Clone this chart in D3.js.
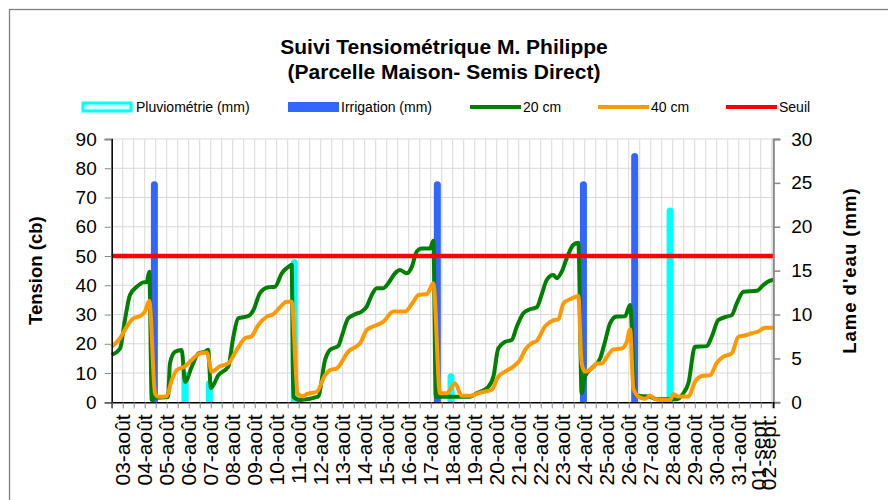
<!DOCTYPE html>
<html lang="fr">
<head>
<meta charset="utf-8">
<title>Suivi Tensiométrique M. Philippe</title>
<script src="https://d3js.org/d3.v7.min.js"></script>
<style>
  body { margin: 0; background: #fff; }
  svg { display: block; font-family: "Liberation Sans", Arial, sans-serif; }
  .grid line { stroke: #d9d9d9; stroke-width: 1; }
</style>
</head>
<body>
<svg id="chart"></svg>
<script>
// temps en jours (3 = 03-août 0h, 32 = 01-sept.)
const labels = ["03-août","04-août","05-août","06-août","07-août","08-août","09-août","10-août",
  "11-août","12-août","13-août","14-août","15-août","16-août","17-août","18-août","19-août",
  "20-août","21-août","22-août","23-août","24-août","25-août","26-août","27-août","28-août",
  "29-août","30-août","31-août","01-sept.","02-sept."];
const labelDays = [3,4,5,6,7,8,9,10,11,12,13,14,15,16,17,18,19,20,21,22,23,24,25,26,27,28,29,30,31,31.9,32.35];

// tension 20 cm (cb)
const t20 = [2.5,2.88,3.1,3.33,3.64,3.94,4.09,4.21,4.32,4.47,5.06,5.15,5.38,5.68,5.83,6.14,6.44,6.74,6.88,7.01,
  7.35,7.8,8.03,8.25,8.71,8.94,9.24,9.62,9.92,10.23,10.53,10.68,10.75,11.06,11.88,12.2,12.42,12.8,12.95,13.25,
  13.56,13.86,14.09,14.32,14.55,14.85,15.07,15.38,15.6,15.91,16.14,16.36,16.59,16.97,17.12,17.23,18.79,19.09,19.62,19.85,
  20.07,20.38,20.68,20.91,21.21,21.51,21.82,22.05,22.27,22.57,22.73,22.95,23.18,23.48,23.71,23.86,24.01,24.39,24.7,24.92,
  25.15,25.45,25.83,26.06,26.29,26.51,26.97,27.27,28.18,28.48,28.71,29.01,29.55,29.77,30.07,30.45,30.68,30.91,31.21,31.82,
  32.12,32.42,32.57];
const v20 = [16.2,18.4,28.1,36.7,39.5,41,41.1,44.6,0.8,1.5,1.8,13.4,17.3,17.9,7,12.2,16.7,17.3,18,4.8,
  9.3,12.2,22.4,28.7,29.5,31.5,37.3,39.3,39.5,44.1,46.3,47,1.9,0.8,1.9,14.5,17.9,19.3,22.4,28.7,
  30.1,31,32.7,36.7,39,39,40.7,44.1,45.2,44.1,46.3,51.5,52.6,52.6,55.2,1.9,1.9,3.1,5.3,8.8,
  18.4,20.7,21.3,25.8,30.4,31.8,32.5,37,41.8,43.5,42.4,44.6,49.2,53.8,54.5,3.1,8.8,12.2,15,20.7,
  27,29.3,29.4,33.3,2.5,2.2,1.9,1,1,3.1,6.5,19,19.2,22.4,28.1,29.3,29.8,33.8,37.8,38.1,
  40.1,41.6,41.8];

// tension 40 cm (cb)
const t40 = [2.5,2.88,3.18,3.48,3.79,4.01,4.21,4.47,4.62,5,5.23,5.45,5.83,6.14,6.51,6.82,7.05,7.42,7.8,8.18,
  8.56,8.86,9.16,9.55,9.85,10.15,10.45,10.68,10.95,11.21,11.36,11.82,12.2,12.42,12.73,13.25,13.79,14.09,14.55,14.85,
  15.3,15.83,16.21,16.44,16.82,17.12,17.42,17.73,18.1,18.41,18.79,19.24,19.77,20.07,20.38,20.75,21.06,21.29,21.59,21.82,
  22.2,22.57,22.8,23.03,23.41,23.71,23.86,24.01,24.32,24.55,24.77,25.07,25.3,25.68,25.91,26.06,26.21,26.44,26.74,26.97,
  27.2,27.42,27.88,28.03,28.25,28.71,29.01,29.32,29.7,30,30.3,30.68,30.98,31.36,31.59,31.89,32.19,32.57];
const v40 = [19,21.9,25.8,28.7,29.5,31,34.7,3.1,1.9,2.1,7.6,11,12.3,14.5,16.7,17,10.5,12.3,13.3,17.9,
  21.9,22.6,26.4,29.3,30.1,32.5,34.4,34.4,3.1,2,2.8,3.6,9.3,11,11.6,17.3,20.2,24.7,26.4,27.6,
  31,31,34.4,36.7,37,40.7,3.1,3.1,6.5,2.2,2.2,3.3,4.3,8.8,10.5,12.2,14.5,17.9,20.2,21,
  26,28,28.4,33.8,35.5,36.3,13.3,10.5,11.6,13.3,13.3,16.2,18.1,18.4,20.7,25,4.8,1.9,1.2,2.2,
  1.2,0.8,0.8,2.8,2,2,7,9,9.3,13.5,15.6,16.7,22.4,23,23.6,24.2,25.5,25.5];

// lames d'eau (mm)
const pluieDays = [5.83, 6.94, 10.8, 17.92, 27.88];
const pluieMm = [3.5, 2.5, 16.3, 3.3, 22.2];
const irrigDays = [4.44, 17.3, 23.94, 26.27];
const irrigMm = [25.2, 25.2, 25.2, 28.4];

const seuil = 50;
const tensionTicks = [0,10,20,30,40,50,60,70,80,90];
const lameTicks = [0,5,10,15,20,25,30];

const width = 888, height = 500;
const pL = 111.7, pR = 773.3, pT = 139, pB = 402.3;

const svg = d3.select("#chart").attr("width", width).attr("height", height);

// cadre du graphique
svg.append("rect").attr("x", 9.5).attr("y", 9.5).attr("width", 900).attr("height", 520)
  .attr("fill", "#fff").attr("stroke", "#808080").attr("stroke-width", 1.3);

const x = d3.scaleLinear().domain([2.5, 32.57]).range([pL, pR]);
const y = d3.scaleLinear().domain([0, 90]).range([pB, pT]);
const yR = d3.scaleLinear().domain([0, 30]).range([pB, pT]);

// grille
const halfDays = d3.range(2.5, 32.51, 0.5);
svg.append("g").attr("class", "grid")
  .selectAll("line").data(halfDays).join("line")
  .attr("x1", d => x(d)).attr("x2", d => x(d)).attr("y1", pT).attr("y2", pB);
svg.append("g").attr("class", "grid")
  .selectAll("line").data(tensionTicks.slice(1)).join("line")
  .attr("x1", pL).attr("x2", pR).attr("y1", d => y(d)).attr("y2", d => y(d));

svg.append("clipPath").attr("id", "plot")
  .append("rect").attr("x", pL).attr("y", 100).attr("width", pR - pL).attr("height", pB - 100);

// barres pluie / irrigation
const bars = svg.append("g").attr("clip-path", "url(#plot)");
function drawBars(days, mm, color) {
  bars.append("g").selectAll("rect").data(days).join("rect")
    .attr("x", d => x(d) - 3.5)
    .attr("width", 7)
    .attr("y", (d, i) => yR(mm[i]))
    .attr("height", (d, i) => pB + 5 - yR(mm[i]))
    .attr("rx", 3.5)
    .attr("fill", color);
}
drawBars(pluieDays, pluieMm, "#00ffff");
drawBars(irrigDays, irrigMm, "#3366ff");

// courbes de tension
const line = d3.line().x(d => x(d[0])).y(d => y(d[1])).curve(d3.curveMonotoneX);
svg.append("path").datum(d3.zip(t20, v20)).attr("d", line)
  .attr("fill", "none").attr("stroke", "#008000").attr("stroke-width", 4).attr("stroke-linejoin", "round");
svg.append("path").datum(d3.zip(t40, v40)).attr("d", line)
  .attr("fill", "none").attr("stroke", "#ff9900").attr("stroke-width", 4).attr("stroke-linejoin", "round");

svg.append("line").attr("x1", pL).attr("x2", pR).attr("y1", y(seuil)).attr("y2", y(seuil))
  .attr("stroke", "#ff0000").attr("stroke-width", 4.5);

// axes
const axL = svg.append("g").attr("transform", `translate(${pL},0)`)
  .call(d3.axisLeft(y).tickValues(tensionTicks).tickSize(7).tickPadding(8));
axL.select(".domain").attr("stroke", "#000").attr("stroke-width", 1.5);
axL.selectAll(".tick line").attr("stroke", "#888");
axL.selectAll("text").attr("font-size", 19).attr("fill", "#000").attr("font-family", "Liberation Sans, Arial");

const axR = svg.append("g").attr("transform", `translate(${pR},0)`)
  .call(d3.axisRight(yR).tickValues(lameTicks).tickSize(7).tickPadding(11));
axR.select(".domain").attr("stroke", "#888").attr("stroke-width", 2);
axR.selectAll(".tick line").attr("stroke", "#888").attr("stroke-width", 1.5);
axR.selectAll("text").attr("font-size", 19).attr("fill", "#000").attr("font-family", "Liberation Sans, Arial");

const axB = svg.append("g").attr("transform", `translate(0,${pB})`)
  .call(d3.axisBottom(x).tickValues(halfDays).tickSize(6).tickFormat(""));
axB.select(".domain").attr("stroke", "#000").attr("stroke-width", 1.5);
axB.selectAll(".tick line").attr("stroke", "#888");

svg.append("g").selectAll("text").data(labels).join("text")
  .attr("transform", (d, i) => `translate(${x(labelDays[i])},${pB + 12}) rotate(-90)`)
  .attr("text-anchor", "end").attr("dy", "0.36em")
  .attr("font-size", 21).text(d => d);

// titres
svg.append("text").attr("x", 444).attr("y", 54).attr("text-anchor", "middle")
  .attr("font-size", 21).attr("font-weight", "bold").text("Suivi Tensiométrique M. Philippe");
svg.append("text").attr("x", 444).attr("y", 79).attr("text-anchor", "middle")
  .attr("font-size", 21).attr("font-weight", "bold").text("(Parcelle Maison- Semis Direct)");

svg.append("text").attr("transform", `translate(42,${(pT + pB) / 2}) rotate(-90)`)
  .attr("text-anchor", "middle").attr("font-size", 18.5).attr("font-weight", "bold").text("Tension (cb)");
svg.append("text").attr("transform", `translate(856,${(pT + pB) / 2}) rotate(-90)`)
  .attr("text-anchor", "middle").attr("font-size", 18.5).attr("font-weight", "bold")
  .attr("letter-spacing", 1).text("Lame d'eau (mm)");

// légende
const legY = 107;
const leg = svg.append("g").attr("font-size", 14);
leg.append("rect").attr("x", 83).attr("y", legY - 4).attr("width", 48).attr("height", 8)
  .attr("fill", "#ccffff").attr("stroke", "#00ffff").attr("stroke-width", 3);
leg.append("text").attr("x", 136).attr("y", legY + 5).text("Pluviométrie (mm)");
leg.append("rect").attr("x", 288).attr("y", legY - 5).attr("width", 51).attr("height", 10).attr("fill", "#3366ff");
leg.append("text").attr("x", 341).attr("y", legY + 5).text("Irrigation (mm)");
[[470, "#008000", "20 cm"], [598, "#ff9900", "40 cm"], [726, "#ff0000", "Seuil"]].forEach(s => {
  leg.append("line").attr("x1", s[0]).attr("x2", s[0] + 51).attr("y1", legY).attr("y2", legY)
    .attr("stroke", s[1]).attr("stroke-width", 4);
  leg.append("text").attr("x", s[0] + 53).attr("y", legY + 5).text(s[2]);
});
</script>
</body>
</html>
